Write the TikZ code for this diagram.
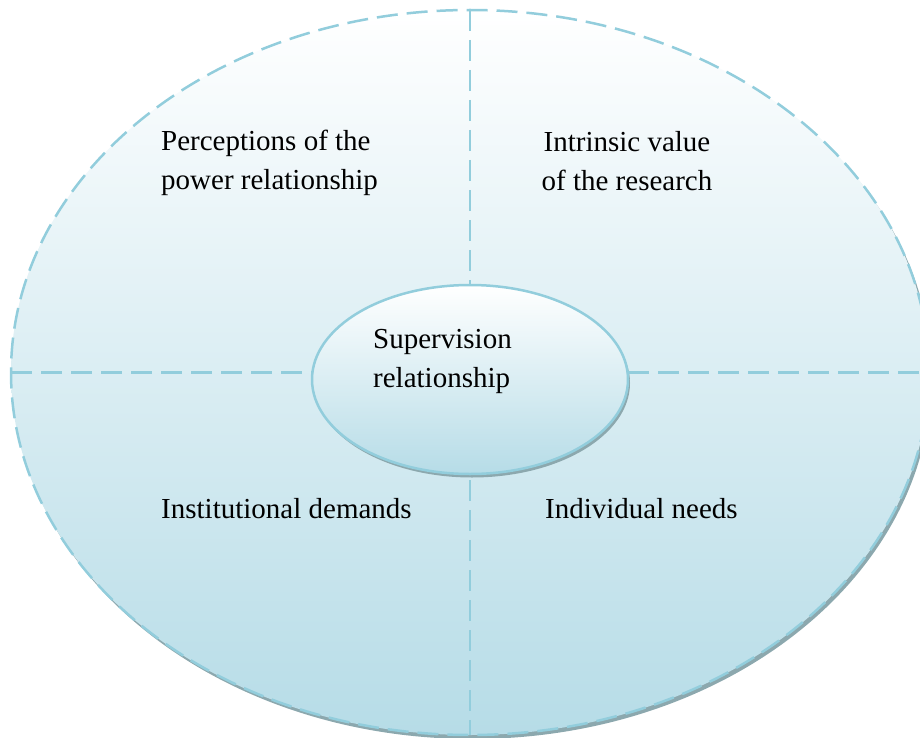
\documentclass[tikz,border=0pt]{standalone}
\usepackage{fontspec}
\setmainfont{Liberation Serif}
\usetikzlibrary{shapes.geometric}
\definecolor{dashblue}{HTML}{92CDDC}
\definecolor{fillblue}{HTML}{B6DCE7}
\definecolor{midblue}{HTML}{DFEEF3}
\definecolor{shadowgray}{HTML}{8CA8AE}
\begin{document}
\begin{tikzpicture}[x=1pt,y=-1pt,
  lbl/.style={font=\fontsize{29}{39}\selectfont, inner sep=0pt, text=black},
  divider/.style={draw=dashblue, line width=2.5pt, dash pattern=on 21pt off 9pt},
  bubble/.style={ellipse, inner sep=0pt, outer sep=0pt, top color=white, bottom color=fillblue, line width=2.5pt}
]
\useasboundingbox (0,0) rectangle (920,738);
\clip (0,0) rectangle (920,738);
% outer ellipse with shadow
\fill[shadowgray] (472.5,376.5) ellipse [x radius=459, y radius=362.5];
\node[bubble, minimum width=918pt, minimum height=725pt, top color=white, middle color=midblue, bottom color=fillblue, draw=dashblue, dash pattern=on 21pt off 9pt] (outer) at (470,372.5) {};
% inner ellipse with shadow
\fill[shadowgray] (472,383) ellipse [x radius=158, y radius=94.5];
\node[bubble, minimum width=316pt, minimum height=189pt, draw=dashblue] (inner) at (470,379.5) {};
% dividers
\draw[divider] (outer.north) -- (inner.north);
\draw[divider] ([yshift=-6pt]inner.south) -- (outer.south);
\draw[divider] (outer.west) -- (inner.west |- outer.west);
\draw[divider] (inner.east |- outer.east) -- (outer.east);
% labels
\node[lbl, anchor=base west] (perc) at (161,151) {\parbox[t]{260pt}{Perceptions of the\\power relationship}};
\node[lbl, anchor=base] (intr) at (627,152) {\parbox[t]{220pt}{\centering Intrinsic value\\of the research}};
\node[lbl, anchor=base west] (inst) at (161,518) {Institutional demands};
\node[lbl, anchor=base west] (indiv) at (545,518) {Individual needs};
\node[lbl, anchor=base west] (sup) at (373,348) {\parbox[t]{200pt}{Supervision\\relationship}};
\end{tikzpicture}
\end{document}
